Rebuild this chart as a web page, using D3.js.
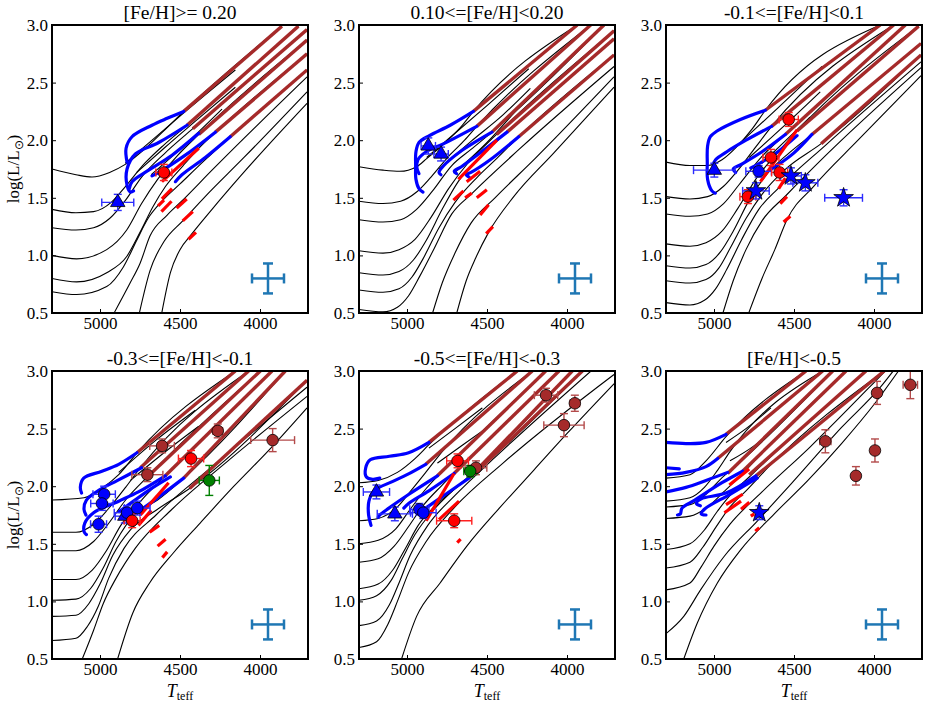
<!DOCTYPE html>
<html>
<head>
<meta charset="utf-8">
<script src="https://cdn.jsdelivr.net/npm/d3@7"></script>
<style>
  body { margin: 0; background: #fff; }
</style>
</head>
<body>
<svg id="chart" width="927" height="704"></svg>
<script>
// ---- labels / ticks ----
const titles = ["[Fe/H]>= 0.20", "0.10<=[Fe/H]<0.20", "-0.1<=[Fe/H]<0.1",
                "-0.3<=[Fe/H]<-0.1", "-0.5<=[Fe/H]<-0.3", "[Fe/H]<-0.5"];
const xTicks = [5000, 4500, 4000];
const yTicks = [0.5, 1.0, 1.5, 2.0, 2.5, 3.0];
// typical error bar: [Teff, logL, dTeff, dlogL]
const errCross = [3950, 0.8, 100, 0.13];

// ---- panel 1 ----
const blackP1 = [
  [[5300,1.75],[5150,1.70],[5050,1.68],[4940,1.72],[4842,1.79],[4700,1.95],[4580,2.11],[4477,2.25],[3863,2.99]],
  [[5300,1.40],[5150,1.37],[5040,1.38],[4930,1.46],[4840,1.60],[4720,1.80],[4600,1.96],[4456,2.13],[3760,2.99]],
  [[5300,1.24],[5150,1.22],[5040,1.24],[4940,1.32],[4840,1.48],[4740,1.68],[4600,1.88],[4420,2.10],[3706,2.96]],
  [[5300,1.00],[5146,0.97],[4958,1.05],[4833,1.22],[4740,1.45],[4640,1.66],[4520,1.86],[4383,2.05],[3706,2.87]],
  [[5300,0.80],[5146,0.77],[4958,0.85],[4833,0.99],[4750,1.20],[4670,1.42],[4590,1.60],[4480,1.78],[4383,1.93],[4279,2.07],[3706,2.75]],
  [[5300,0.685],[5146,0.66],[4958,0.73],[4854,0.90],[4771,1.13],[4700,1.32],[4620,1.46],[4500,1.62],[4350,1.82],[4186,2.03],[3706,2.61]],
  [[4912,0.50],[4812,0.76],[4750,0.93],[4687,1.17],[4580,1.35],[4490,1.47],[4300,1.74],[3706,2.55]],
  [[4754,0.50],[4687,0.87],[4600,1.12],[4483,1.30],[4350,1.50],[4100,1.85],[3706,2.42]],
  [[4614,0.50],[4560,0.85],[4500,1.05],[4430,1.18],[4300,1.40],[4121,1.69],[3706,2.32]]
];
const agbP1 = [
  [[4842,1.80],[4700,1.97],[4500,2.21],[4154,2.61]],
  [[4770,1.72],[4600,1.93],[4400,2.17],[4154,2.46]],
  [[4680,1.70],[4500,1.92],[4237,2.27]]
];
const brownP1 = [
  [[4477,2.25],[3863,2.99]], [[4456,2.13],[3760,2.99]], [[4420,2.10],[3706,2.96]],
  [[4383,2.05],[3706,2.87]], [[4279,2.07],[3706,2.75]], [[4186,2.03],[3706,2.61]]
];
const blueP1 = [
  [[4477,2.25],[4580,2.19],[4675,2.13],[4800,2.03],[4837,1.93],[4831,1.81]],
  [[4456,2.13],[4633,1.98],[4779,1.88],[4831,1.75],[4831,1.61],[4810,1.55],[4790,1.56]],
  [[4383,2.06],[4550,1.87],[4696,1.74],[4800,1.64],[4817,1.58]],
  [[4279,2.07],[4467,1.87],[4633,1.72],[4675,1.69]],
  [[4186,2.03],[4342,1.85],[4488,1.70],[4529,1.64]]
];
const redP1 = [
  [[4383,1.93],[4613,1.64]], [[4550,1.58],[4613,1.49]], [[4637,1.43],[4600,1.48]],
  [[4616,1.38],[4553,1.47]], [[4521,1.41],[4458,1.49]], [[4483,1.30],[4420,1.38]], [[4447,1.14],[4400,1.20]]
];
const starsP1 = [
  [4889,1.46,100,0.07,"tri"], [4601,1.72,50,0.07,"rc"]
];

// ---- panel 2 ----
const blackP2 = [
  [[5300,1.77],[5150,1.74],[5045,1.73],[4940,1.77],[4877,1.84],[4760,1.98],[4660,2.12],[4585,2.25],[3936,3.00]],
  [[5300,1.47],[5150,1.45],[5040,1.47],[4940,1.55],[4850,1.68],[4740,1.86],[4640,2.00],[4564,2.12],[3852,3.00]],
  [[5300,1.31],[5150,1.29],[5040,1.31],[4940,1.40],[4840,1.56],[4720,1.78],[4600,1.92],[4469,2.07],[3769,3.00]],
  [[5300,1.04],[5150,1.02],[5050,1.05],[4950,1.14],[4850,1.33],[4740,1.58],[4620,1.80],[4440,2.05],[3706,2.95]],
  [[5300,0.85],[5150,0.83],[5050,0.86],[4960,0.96],[4880,1.13],[4780,1.40],[4680,1.64],[4540,1.86],[4375,2.07],[3706,2.88]],
  [[5300,0.70],[5150,0.68],[5050,0.71],[4970,0.81],[4900,0.97],[4800,1.24],[4700,1.46],[4560,1.68],[4440,1.84],[4302,2.03],[3706,2.74]],
  [[5300,0.53],[5150,0.51],[5060,0.55],[4990,0.65],[4920,0.82],[4830,1.06],[4720,1.36],[4600,1.53],[4300,1.92],[3706,2.64]],
  [[4840,0.50],[4780,0.76],[4700,1.02],[4600,1.28],[4450,1.50],[4200,1.84],[3706,2.55]],
  [[4689,0.50],[4630,0.78],[4570,0.98],[4490,1.20],[4333,1.51],[4082,1.89],[3706,2.46]]
];
const agbP2 = [
  [[4877,1.85],[4700,2.06],[4500,2.30],[4239,2.62]],
  [[4800,1.75],[4600,1.99],[4400,2.22],[4229,2.45]],
  [[4700,1.72],[4500,1.98],[4292,2.30]]
];
const brownP2 = [
  [[4585,2.25],[3936,3.00]], [[4564,2.12],[3852,3.00]], [[4469,2.07],[3769,3.00]],
  [[4440,2.05],[3706,2.95]], [[4375,2.07],[3706,2.88]], [[4302,2.03],[3706,2.74]]
];
const blueP2 = [
  [[4585,2.25],[4730,2.13],[4860,2.04],[4925,1.98],[4944,1.90],[4946,1.78],[4944,1.66],[4925,1.58],[4900,1.55]],
  [[4564,2.12],[4770,1.97],[4880,1.90],[4932,1.83],[4938,1.76],[4925,1.71]],
  [[4469,2.07],[4668,1.90],[4770,1.78],[4800,1.72],[4788,1.70]],
  [[4375,2.07],[4543,1.89],[4660,1.77],[4705,1.73],[4690,1.71]],
  [[4302,2.03],[4480,1.83],[4600,1.72],[4630,1.70],[4612,1.68]]
];
const redP2 = [
  [[4438,2.00],[4679,1.66]], [[4543,1.73],[4627,1.64]], [[4647,1.56],[4710,1.48]], [[4595,1.54],[4637,1.50]],
  [[4501,1.57],[4564,1.50]], [[4490,1.44],[4543,1.35]], [[4463,1.25],[4505,1.19]]
];
const starsP2 = [
  [4867,1.95,45,0.07,"tri"], [4787,1.88,45,0.06,"tri"]
];

// ---- panel 3 ----
const blackP3 = [
  [[5300,1.81],[5150,1.78],[5040,1.78],[4950,1.83],[4860,1.94],[4760,2.10],[4679,2.26],[3961,3.00]],
  [[5300,1.51],[5150,1.49],[5040,1.51],[4940,1.60],[4850,1.74],[4740,1.94],[4640,2.12],[3877,3.00]],
  [[5300,1.36],[5150,1.34],[5040,1.36],[4940,1.45],[4840,1.62],[4700,1.86],[4554,2.05],[3804,3.00]],
  [[5300,1.10],[5150,1.08],[5050,1.11],[4950,1.21],[4850,1.41],[4730,1.68],[4610,1.88],[4481,2.08],[3721,2.99]],
  [[5300,0.91],[5150,0.89],[5050,0.92],[4960,1.03],[4880,1.21],[4780,1.48],[4660,1.72],[4530,1.89],[4388,2.05],[3706,2.84]],
  [[5300,0.78],[5150,0.76],[5050,0.79],[4970,0.89],[4900,1.06],[4800,1.32],[4700,1.53],[4560,1.74],[4330,1.97],[3706,2.74]],
  [[5300,0.59],[5150,0.57],[5060,0.61],[4990,0.71],[4920,0.88],[4830,1.13],[4720,1.40],[4600,1.58],[4300,1.96],[3706,2.68]],
  [[4944,0.50],[4880,0.78],[4800,1.05],[4700,1.30],[4550,1.52],[4300,1.87],[3706,2.63]],
  [[4783,0.50],[4700,0.80],[4620,1.05],[4544,1.31],[4377,1.60],[4100,2.00],[3706,2.56]]
];
const agbP3 = [
  [[4850,1.96],[4600,2.28],[4325,2.64]],
  [[4780,1.85],[4550,2.14],[4336,2.42]],
  [[4700,1.80],[4520,2.04],[4400,2.20]]
];
const brownP3 = [
  [[4679,2.26],[3961,3.00]], [[4640,2.12],[3877,3.00]], [[4554,2.05],[3804,3.00]],
  [[4481,2.08],[3721,2.99]], [[4388,2.05],[3706,2.84]], [[4330,1.97],[3706,2.74]]
];
const blueP3 = [
  [[4679,2.26],[4835,2.18],[4981,2.08],[5023,2.03],[5040,1.95],[5042,1.80],[5040,1.66],[5013,1.56],[4992,1.54]],
  [[4640,2.12],[4800,2.00],[4920,1.90],[4990,1.83],[5005,1.78],[4990,1.74]],
  [[4554,2.05],[4700,1.90],[4830,1.79],[4880,1.75],[4865,1.72]],
  [[4481,2.04],[4620,1.88],[4740,1.78],[4770,1.76]],
  [[4388,2.05],[4500,1.89],[4606,1.78],[4640,1.75]]
];
const redP3 = [
  [[4481,2.09],[4710,1.64]], [[4554,1.67],[4596,1.58]], [[4544,1.51],[4586,1.45]], [[4523,1.34],[4565,1.29]]
];
const starsP3 = [
  [4998,1.74,130,0.06,"tri"], [4721,1.73,80,0.05,"bc"],
  [4533,2.18,60,0.06,"rc"], [4644,1.85,50,0.07,"rc"], [4590,1.72,50,0.07,"rc"], [4788,1.51,50,0.06,"rc"],
  [4738,1.56,83,0.07,"star"], [4519,1.69,65,0.07,"star"], [4429,1.63,78,0.07,"star"], [4190,1.50,118,0.07,"star"]
];

// ---- panel 4 ----
const blackP4 = [
  [[5300,1.88],[5100,1.90],[4980,1.99],[4883,2.10],[4769,2.29],[4154,3.00]],
  [[5300,1.60],[5150,1.60],[5040,1.67],[4950,1.80],[4840,1.99],[4748,2.16],[4071,3.00]],
  [[5300,1.44],[5150,1.44],[5040,1.52],[4950,1.67],[4840,1.88],[4690,2.10],[3998,3.00]],
  [[5300,1.19],[5150,1.19],[5050,1.27],[4960,1.44],[4870,1.66],[4740,1.88],[4592,2.09],[3925,3.00]],
  [[5300,1.01],[5150,1.02],[5060,1.11],[4980,1.29],[4900,1.52],[4780,1.76],[4640,1.88],[4477,2.07],[3842,3.00]],
  [[5300,0.87],[5150,0.88],[5070,0.98],[5000,1.15],[4920,1.40],[4810,1.62],[4640,1.80],[4440,1.98],[3706,2.92]],
  [[5300,0.66],[5150,0.68],[5080,0.78],[5010,0.96],[4946,1.20],[4850,1.46],[4650,1.75],[4300,2.17],[3706,2.86]],
  [[5111,0.50],[5040,0.75],[4980,0.98],[4900,1.20],[4780,1.46],[4550,1.80],[4200,2.22],[3706,2.78]],
  [[4890,0.50],[4795,0.90],[4690,1.16],[4542,1.42],[4374,1.68],[4163,2.00],[3953,2.30],[3706,2.68]]
];
const agbP4 = [
  [[4883,2.12],[4650,2.40],[4404,2.66]],
  [[4810,2.05],[4600,2.29],[4383,2.52]]
];
const brownP4 = [
  [[4769,2.29],[4154,3.00]], [[4748,2.16],[4071,3.00]], [[4690,2.10],[3998,3.00]],
  [[4592,2.09],[3925,3.00]], [[4477,2.07],[3842,3.00]], [[4440,1.98],[3706,2.92]]
];
const blueP4 = [
  [[4769,2.29],[4883,2.19],[4988,2.13],[5102,2.07],[5123,1.99],[5115,1.94]],
  [[4740,2.16],[4890,2.05],[5000,1.97],[5085,1.88],[5100,1.80],[5088,1.75]],
  [[4592,2.09],[4760,1.95],[4883,1.87],[5040,1.77],[5095,1.68],[5098,1.60],[5085,1.58]],
  [[4560,2.08],[4700,1.96],[4820,1.84],[4880,1.78]],
  [[4477,2.07],[4620,1.92],[4740,1.80],[4790,1.76]]
];
const redP4 = [
  [[4571,2.03],[4748,1.75]], [[4680,1.79],[4760,1.66]], [[4630,1.66],[4690,1.60]],
  [[4590,1.54],[4640,1.48]], [[4580,1.43],[4610,1.38]]
];
const starsP4 = [
  [4612,2.35,77,0.06,"brc"], [4704,2.10,97,0.06,"brc"], [4264,2.48,30,0.06,"brc"], [3921,2.40,137,0.10,"brc"],
  [4431,2.24,79,0.07,"rc"], [4317,2.05,63,0.13,"gc"],
  [4845,1.74,60,0.06,"tri"],
  [4974,1.93,70,0.07,"bc"], [4988,1.85,70,0.06,"bc"], [5009,1.67,50,0.07,"bc"],
  [4831,1.77,80,0.06,"bc"], [4767,1.81,80,0.06,"bc"], [4799,1.70,50,0.06,"rc"]
];

// ---- panel 5 ----
const blackP5 = [
  [[5300,2.03],[5180,2.05],[5060,2.12],[4950,2.24],[4863,2.36],[4311,3.00]],
  [[5300,1.70],[5180,1.72],[5060,1.82],[4970,1.97],[4883,2.12],[4780,2.30],[4217,3.00]],
  [[5300,1.50],[5180,1.53],[5070,1.63],[4980,1.80],[4880,1.98],[4750,2.17],[4133,3.00]],
  [[5300,1.34],[5180,1.37],[5080,1.48],[4990,1.65],[4900,1.83],[4780,2.01],[4650,2.19],[4050,3.00]],
  [[5300,1.11],[5180,1.15],[5090,1.27],[5010,1.46],[4930,1.66],[4800,1.86],[4680,2.00],[4560,2.15],[3967,3.00]],
  [[5300,1.01],[5190,1.05],[5100,1.18],[5030,1.37],[4950,1.58],[4830,1.80],[4700,1.98],[4500,2.21],[3904,3.00]],
  [[5300,0.79],[5190,0.83],[5110,0.97],[5050,1.16],[4980,1.40],[4870,1.66],[4700,1.92],[4450,2.25],[3850,3.00]],
  [[5300,0.60],[5190,0.65],[5120,0.80],[5060,1.00],[4990,1.25],[4880,1.52],[4700,1.82],[4400,2.20],[3706,2.97]],
  [[5034,0.50],[4940,0.87],[4793,1.16],[4626,1.48],[4416,1.82],[4207,2.14],[3998,2.46],[3706,2.89]]
];
const agbP5 = [
  [[4863,2.33],[4700,2.50],[4529,2.68]],
  [[4810,2.20],[4650,2.36],[4498,2.51]]
];
const brownP5 = [
  [[4863,2.38],[4311,3.00]], [[4883,2.19],[4217,3.00]], [[4810,2.09],[4133,3.00]],
  [[4706,2.11],[4050,3.00]], [[4613,2.07],[3967,3.00]], [[4570,2.12],[3904,3.00]]
];
const blueP5 = [
  [[4863,2.38],[4990,2.29],[5110,2.26],[5230,2.23],[5258,2.16],[5254,2.08],[5215,2.06],[5170,2.07]],
  [[4883,2.19],[5000,2.10],[5092,2.04],[5206,1.96],[5238,1.87],[5240,1.75],[5225,1.66]],
  [[4810,2.09],[4988,1.93],[5113,1.81],[5170,1.75],[5180,1.73]],
  [[4706,2.11],[4863,1.96],[4990,1.85],[5020,1.81]],
  [[4613,2.07],[4758,1.93],[4883,1.81],[4915,1.78]]
];
const redP5 = [
  [[4706,2.11],[4880,1.70]], [[4675,1.87],[4800,1.71]], [[4686,1.51],[4665,1.54]]
];
const starsP5 = [
  [5191,1.95,82,0.06,"tri"], [5076,1.76,110,0.06,"tri"],
  [4923,1.80,60,0.05,"bc"], [4898,1.77,80,0.05,"bc"],
  [4684,2.22,68,0.06,"rc"], [4705,1.70,110,0.06,"rc"],
  [4569,2.16,68,0.06,"brc"], [4605,2.13,40,0.05,"gc"],
  [4131,2.79,73,0.06,"brc"], [3951,2.72,30,0.07,"brc"], [4019,2.53,126,0.10,"brc"]
];

// ---- panel 6 ----
const blackP6 = [
  [[5300,2.07],[5150,2.10],[5050,2.22],[4925,2.43],[4425,3.00]],
  [[5300,1.87],[5150,1.90],[5060,1.99],[4977,2.14],[4900,2.30],[4321,3.00]],
  [[5300,1.82],[5150,1.84],[5050,1.93],[4960,2.06],[4860,2.18],[4258,3.00]],
  [[5300,1.72],[5150,1.74],[5040,1.82],[4940,1.95],[4821,2.11],[4700,2.29],[4175,3.00]],
  [[5300,1.45],[5150,1.50],[5060,1.62],[4980,1.78],[4880,1.95],[4780,2.08],[4650,2.25],[4050,3.00]],
  [[5300,1.29],[5150,1.34],[5070,1.47],[4990,1.64],[4900,1.82],[4800,1.96],[4650,2.18],[3936,3.00]],
  [[5300,1.10],[5150,1.16],[5080,1.30],[5000,1.48],[4900,1.67],[4700,1.95],[4400,2.34],[4000,2.90],[3930,3.00]],
  [[5300,0.72],[5189,0.87],[5084,1.10],[4937,1.39],[4728,1.70],[4518,2.02],[4203,2.51],[3960,2.86],[3880,3.00]],
  [[5189,0.50],[5105,0.81],[4979,1.16],[4832,1.45],[4623,1.76],[4413,2.05],[4203,2.37],[3994,2.72],[3847,3.00]]
];
const agbP6 = [
  [[4925,2.38],[4800,2.50],[4644,2.68]],
  [[4900,2.22],[4750,2.35],[4613,2.51]]
];
const brownP6 = [
  [[4925,2.45],[4425,3.00]], [[4977,2.24],[4321,3.00]], [[4915,2.11],[4258,3.00]],
  [[4821,2.13],[4175,3.00]], [[4780,2.10],[4050,3.00]], [[4738,2.09],[3936,3.00]]
];
const blueP6 = [
  [[5300,2.38],[5175,2.37],[5050,2.38],[4925,2.45]],
  [[5300,2.16],[5217,2.15]],
  [[5300,2.10],[5175,2.12],[5050,2.17],[4977,2.24]],
  [[5300,1.95],[5175,1.99],[5050,2.05],[4915,2.12]],
  [[4821,2.13],[4950,2.03],[5120,1.88],[5200,1.81],[5210,1.76],[5228,1.75]],
  [[4738,2.09],[4925,1.94],[5080,1.89],[5110,1.85],[5085,1.83]],
  [[4730,2.07],[4900,1.93],[5060,1.80],[5080,1.76],[5050,1.75]]
];
const redP6 = [
  [[4904,2.01],[4780,2.15]], [[4925,1.84],[4821,1.93]], [[4935,1.77],[4831,1.87]],
  [[4831,1.80],[4779,1.86]], [[4770,1.74],[4748,1.76]], [[4742,1.61],[4717,1.64]]
];
const starsP6 = [
  [4304,2.39,35,0.10,"brc"], [4113,2.09,0,0.08,"brc"], [3981,2.81,25,0.10,"brc"],
  [3994,2.31,25,0.10,"brc"], [3773,2.88,45,0.12,"brc"], [4717,1.77,20,0.06,"star"]
];

// ---- build ----
const panels = [
  {black: blackP1, agb: agbP1, brown: brownP1, blue: blueP1, red: redP1, pts: starsP1},
  {black: blackP2, agb: agbP2, brown: brownP2, blue: blueP2, red: redP2, pts: starsP2},
  {black: blackP3, agb: agbP3, brown: brownP3, blue: blueP3, red: redP3, pts: starsP3},
  {black: blackP4, agb: agbP4, brown: brownP4, blue: blueP4, red: redP4, pts: starsP4},
  {black: blackP5, agb: agbP5, brown: brownP5, blue: blueP5, red: redP5, pts: starsP5},
  {black: blackP6, agb: agbP6, brown: brownP6, blue: blueP6, red: redP6, pts: starsP6}
];

const FONT = '"Liberation Serif", "Times New Roman", serif';
const svg = d3.select("#chart").attr("font-family", FONT);
const W = 256, H = 288;
const colX = [52, 359, 666], rowY = [25, 371];

const x = d3.scaleLinear().domain([5300, 3700]).range([0, W]);
const y = d3.scaleLinear().domain([0.5, 3.0]).range([H, 0]);

// isochrones run monotonically in x, loops do not
const smooth = d3.line().x(d => x(d[0])).y(d => y(d[1])).curve(d3.curveMonotoneX);
const loop = d3.line().x(d => x(d[0])).y(d => y(d[1])).curve(d3.curveCatmullRom.alpha(0.5));
const straight = d3.line().x(d => x(d[0])).y(d => y(d[1]));

const markStyle = {
  tri:  {sym: d3.symbolTriangle, size: 90,  fill: "#0000ff", err: "#2b2bff"},
  bc:   {sym: d3.symbolCircle,   size: 105, fill: "#0000ff", err: "#2b2bff"},
  star: {sym: d3.symbolStar,     size: 120, fill: "#0000ff", err: "#2b2bff"},
  rc:   {sym: d3.symbolCircle,   size: 105, fill: "#ff0000", err: "#ff2020"},
  gc:   {sym: d3.symbolCircle,   size: 105, fill: "#008000", err: "#008000"},
  brc:  {sym: d3.symbolCircle,   size: 105, fill: "#a52a2a", err: "#b34a4a"}
};

panels.forEach((p, i) => {
  const g = svg.append("g")
    .attr("transform", `translate(${colX[i % 3]},${rowY[Math.floor(i / 3)]})`);

  g.append("clipPath").attr("id", "clip" + i)
    .append("rect").attr("width", W).attr("height", H);
  const plot = g.append("g").attr("clip-path", `url(#clip${i})`);

  // isochrones
  plot.selectAll(".iso").data(p.black).enter().append("path")
    .attr("d", smooth).attr("fill", "none").attr("stroke", "#000").attr("stroke-width", 1.1);
  plot.selectAll(".agb").data(p.agb).enter().append("path")
    .attr("d", smooth).attr("fill", "none").attr("stroke", "#000").attr("stroke-width", 1.1);
  plot.selectAll(".brn").data(p.brown).enter().append("path")
    .attr("d", straight).attr("fill", "none").attr("stroke", "#a52a2a")
    .attr("stroke-width", 3.4).attr("stroke-linecap", "butt");
  plot.selectAll(".blu").data(p.blue).enter().append("path")
    .attr("d", loop).attr("fill", "none").attr("stroke", "#0000ff")
    .attr("stroke-width", 3.2).attr("stroke-linecap", "round");
  plot.selectAll(".red").data(p.red).enter().append("path")
    .attr("d", straight).attr("fill", "none").attr("stroke", "#ff0000")
    .attr("stroke-width", 3.2).attr("stroke-linecap", "butt");

  // typical error cross
  const ec = plot.append("g").attr("stroke", "#1f77b4").attr("stroke-width", 2.5);
  const [cT, cL, cdT, cdL] = errCross;
  ec.append("line").attr("x1", x(cT + cdT)).attr("x2", x(cT - cdT)).attr("y1", y(cL)).attr("y2", y(cL));
  ec.append("line").attr("x1", x(cT)).attr("x2", x(cT)).attr("y1", y(cL - cdL)).attr("y2", y(cL + cdL));
  [[x(cT + cdT), y(cL), 0], [x(cT - cdT), y(cL), 0], [x(cT), y(cL - cdL), 1], [x(cT), y(cL + cdL), 1]]
    .forEach(([cx, cy, v]) => {
      ec.append("line")
        .attr("x1", v ? cx - 5 : cx).attr("x2", v ? cx + 5 : cx)
        .attr("y1", v ? cy : cy - 5).attr("y2", v ? cy : cy + 5);
    });

  // stars with error bars
  p.pts.forEach(d => {
    const [T, L, dT, dL, kind] = d;
    const s = markStyle[kind];
    const e = plot.append("g").attr("stroke", s.err).attr("stroke-width", 1.4);
    if (dT > 0) {
      e.append("line").attr("x1", x(T + dT)).attr("x2", x(T - dT)).attr("y1", y(L)).attr("y2", y(L));
      [T + dT, T - dT].forEach(t => e.append("line")
        .attr("x1", x(t)).attr("x2", x(t)).attr("y1", y(L) - 4).attr("y2", y(L) + 4));
    }
    e.append("line").attr("x1", x(T)).attr("x2", x(T)).attr("y1", y(L + dL)).attr("y2", y(L - dL));
    [L + dL, L - dL].forEach(l => e.append("line")
      .attr("x1", x(T) - 4).attr("x2", x(T) + 4).attr("y1", y(l)).attr("y2", y(l)));
  });
  p.pts.forEach(d => {
    const [T, L, , , kind] = d;
    const s = markStyle[kind];
    plot.append("path")
      .attr("d", d3.symbol(s.sym, s.size)())
      .attr("transform", `translate(${x(T)},${y(L)})`)
      .attr("fill", s.fill).attr("stroke", "#000").attr("stroke-width", 0.8);
  });

  // axes, ticks pointing inward
  const ax = g.append("g").attr("transform", `translate(0,${H})`)
    .call(d3.axisBottom(x).tickValues(xTicks).tickSize(-4).tickPadding(4).tickFormat(d3.format("d")));
  const ay = g.append("g")
    .call(d3.axisLeft(y).tickValues(yTicks).tickSize(-4).tickPadding(4).tickFormat(d3.format(".1f")));
  [ax, ay].forEach(a => {
    a.attr("font-family", FONT).attr("font-size", 17);
    a.select(".domain").remove();
    a.selectAll("line").attr("stroke", "#000").attr("stroke-width", 1);
    a.selectAll("text").attr("fill", "#000");
  });

  g.append("rect").attr("width", W).attr("height", H)
    .attr("fill", "none").attr("stroke", "#000").attr("stroke-width", 2);

  g.append("text").attr("x", W / 2).attr("y", -6)
    .attr("text-anchor", "middle").attr("font-size", 19.5).text(titles[i]);

  if (i % 3 === 0) {
    const yl = g.append("text")
      .attr("transform", `translate(-33,${H / 2}) rotate(-90)`)
      .attr("text-anchor", "middle").attr("font-size", 17);
    yl.append("tspan").text("log(L/L");
    yl.append("tspan").attr("font-size", 12).attr("dy", 4).text("\u2299");
    yl.append("tspan").attr("dy", -4).text(")");
  }
  if (i >= 3) {
    const xl = g.append("text").attr("x", W / 2).attr("y", H + 38)
      .attr("text-anchor", "middle").attr("font-size", 18);
    xl.append("tspan").attr("font-style", "italic").text("T");
    xl.append("tspan").attr("font-size", 12).attr("dy", 3).text("teff");
  }
});
</script>
</body>
</html>
